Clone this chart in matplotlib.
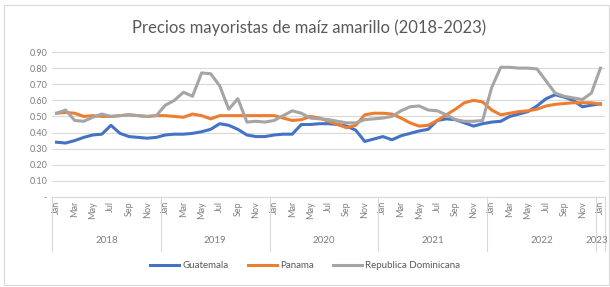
import matplotlib.pyplot as plt
import matplotlib.transforms as mtransforms
from matplotlib.patches import Rectangle

plt.rcParams['font.family'] = ['Lato', 'DejaVu Sans']

# Monthly wholesale prices, Jan 2018 .. Jan 2023
years = ['2018', '2019', '2020', '2021', '2022', '2023']
month_names = ['Jan', 'Feb', 'Mar', 'Apr', 'May', 'Jun',
               'Jul', 'Aug', 'Sep', 'Oct', 'Nov', 'Dec']

guatemala = [0.34, 0.335, 0.35, 0.37, 0.385, 0.39, 0.445, 0.395, 0.375, 0.37, 0.365, 0.37,
             0.385, 0.39, 0.39, 0.395, 0.405, 0.42, 0.455, 0.445, 0.42, 0.385, 0.375, 0.375,
             0.385, 0.39, 0.39, 0.45, 0.45, 0.455, 0.455, 0.45, 0.44, 0.415, 0.345, 0.36,
             0.375, 0.355, 0.38, 0.395, 0.41, 0.42, 0.475, 0.485, 0.48, 0.46, 0.44, 0.455,
             0.465, 0.47, 0.50, 0.515, 0.53, 0.565, 0.61, 0.635, 0.62, 0.60, 0.56, 0.57,
             0.578]
panama = [0.52, 0.525, 0.52, 0.50, 0.505, 0.50, 0.50, 0.505, 0.51, 0.505, 0.50, 0.505,
          0.505, 0.50, 0.495, 0.515, 0.505, 0.485, 0.505, 0.505, 0.505, 0.505, 0.505, 0.505,
          0.505, 0.49, 0.475, 0.48, 0.50, 0.49, 0.47, 0.45, 0.43, 0.445, 0.51, 0.52,
          0.52, 0.515, 0.49, 0.46, 0.44, 0.445, 0.475, 0.51, 0.545, 0.585, 0.60, 0.59,
          0.54, 0.51, 0.52, 0.53, 0.535, 0.545, 0.565, 0.575, 0.58, 0.585, 0.585, 0.585,
          0.575]
rep_dom = [0.52, 0.54, 0.475, 0.47, 0.495, 0.515, 0.50, 0.505, 0.51, 0.505, 0.50, 0.505,
           0.57, 0.60, 0.65, 0.625, 0.77, 0.765, 0.69, 0.545, 0.61, 0.465, 0.47, 0.465,
           0.475, 0.505, 0.535, 0.52, 0.49, 0.485, 0.48, 0.47, 0.46, 0.46, 0.48, 0.485,
           0.49, 0.50, 0.535, 0.56, 0.565, 0.54, 0.535, 0.51, 0.48, 0.47, 0.47, 0.475,
           0.68, 0.805, 0.805, 0.80, 0.80, 0.795, 0.72, 0.645, 0.625, 0.615, 0.605, 0.645,
           0.80]

series = [('Guatemala', guatemala, '#4472C4'),
          ('Panama', panama, '#ED7D31'),
          ('Republica Dominicana', rep_dom, '#A5A5A5')]

fig = plt.figure(figsize=(6.1, 2.87), dpi=100)
fig.patches.append(Rectangle((4 / 610, 2 / 287), 605 / 610, 280 / 287,
                             transform=fig.transFigure, fill=False,
                             edgecolor='#D9D9D9', linewidth=0.8))

ax = fig.add_axes([52 / 610, 1 - 197 / 287, 553 / 610, 145 / 287])
x = list(range(len(guatemala)))
for name, vals, col in series:
    ax.plot(x, vals, color=col, linewidth=2.2, label=name)

ax.set_xlim(-0.5, len(x) - 0.5)
ax.set_ylim(0, 0.9)
yt = [i / 10 for i in range(10)]
ax.set_yticks(yt)
ax.set_yticklabels(['-'] + ['%.2f' % v for v in yt[1:]])
ax.grid(axis='y', color='#D9D9D9', linewidth=0.8)
ax.set_axisbelow(True)
for s in ['top', 'right', 'left']:
    ax.spines[s].set_visible(False)
ax.spines['bottom'].set_color('#D9D9D9')

# month labels every other month
ticks = list(range(0, len(x), 2))
ax.set_xticks(ticks)
ax.set_xticklabels([month_names[i % 12] for i in ticks], rotation=90)
ax.tick_params(axis='both', length=0, labelsize=6.5, labelcolor='#7F7F7F')
ax.tick_params(axis='x', pad=3)

# year labels and separators
trans = mtransforms.blended_transform_factory(ax.transData, ax.transAxes)
for k, yr in enumerate(years):
    start = k * 12 - 0.5
    end = min(start + 12, len(x) - 0.5)
    if yr == years[-1]:
        ax.text(end + 0.3, -0.30, yr, transform=trans, ha='right', va='center',
                fontsize=7, color='#7F7F7F')
    else:
        ax.text((start + end) / 2, -0.30, yr, transform=trans, ha='center', va='center',
                fontsize=7, color='#7F7F7F')
    ax.plot([start, start], [0, -0.37], transform=trans, color='#D9D9D9',
            linewidth=0.8, clip_on=False)
ax.plot([len(x) - 0.5] * 2, [0, -0.37], transform=trans, color='#D9D9D9',
        linewidth=0.8, clip_on=False)

fig.text(0.507, 1 - 28 / 287, 'Precios mayoristas de maíz amarillo (2018-2023)',
         ha='center', va='center', fontsize=12, color='#595959')

fig.legend(loc='center', bbox_to_anchor=(0.5, 1 - 266 / 287), ncol=3,
           frameon=False, fontsize=7, labelcolor='#595959', handlelength=3,
           columnspacing=2, handletextpad=0.3)

fig.savefig('out.png', dpi=100)
